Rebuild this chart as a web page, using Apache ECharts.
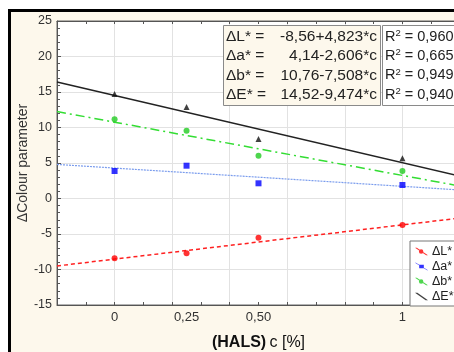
<!DOCTYPE html>
<html><head><meta charset="utf-8">
<script src="https://cdn.jsdelivr.net/npm/echarts@6/dist/echarts.min.js"></script>
<style>
html,body{margin:0;padding:0;background:#fff;}
#wrap{position:relative;width:454px;height:352px;overflow:hidden;background:#fff;}
#frame{position:absolute;left:8px;top:9px;width:460px;height:360px;border-left:3px solid #000;border-top:3px solid #000;background:#fdf8ec;}
#c{position:absolute;left:0;top:0;width:454px;height:352px;}
</style>
</head><body>
<div id="wrap"><div id="frame"></div><div id="c"></div></div>
<script>
// ---- data ----
const xValues = [0, 0.25, 0.5, 1];
const dLValues = [-8.42, -7.72, -5.52, -3.73];
const daValues = [3.87, 4.62, 2.14, 1.90];
const dbValues = [11.15, 9.55, 6.03, 3.87];
const dEValues = [14.72, 12.89, 8.38, 5.66];

// regression line end points (x = -0.2 and x = 1.2)
const fitX = [-0.2, 1.2];
const fitL = [-9.50, -2.75];
const fitA = [4.80, 1.20];
const fitB = [12.25, 1.75];
const fitE = [16.41, 3.15];

const seriesNames = ['ΔL*', 'Δa*', 'Δb*', 'ΔE*'];
const xTickValues = [0, 0.25, 0.5, 1];
const xTickLabels = ['0', '0,25', '0,50', '1'];
const yMin = -15, yMax = 25, yStep = 5;
const xMin = -0.2, xMax = 1.2;

const eqLeft = ['ΔL* =', 'Δa* =', 'Δb* =', 'ΔE* ='];
const eqRight = ['-8,56+4,823*c', '4,14-2,606*c', '10,76-7,508*c', '14,52-9,474*c'];
const r2Values = ['0,960', '0,665', '0,949', '0,940'];

const colors = ['#ff0000', '#0000ff', '#22cc22', '#111111'];
const lineColors = ['#ff2020', '#7a9ced', '#33dd33', '#222222'];
const FONT = '"Liberation Sans", Arial, sans-serif';

function pairs(xs, ys) { return xs.map((x, i) => [x, ys[i]]); }

const legendIcons = [
  'path://M0,0 L2,0 L14,8 L12,8 Z M9,4 A2.4,2.4 0 1,1 4.2,4 A2.4,2.4 0 1,1 9,4 Z',
  'path://M0,0 L1,0 L14,8 L13,8 Z M4.5,2 L9.5,2 L9.5,6 L4.5,6 Z',
  'path://M0,0 L2,0 L14,8 L12,8 Z M9,4 A2.4,2.4 0 1,1 4.2,4 A2.4,2.4 0 1,1 9,4 Z',
  'path://M0,0 L2.5,0 L14,8 L11.5,8 Z'
];

const chart = echarts.init(document.getElementById('c'), null, {renderer: 'canvas'});

const scatterSymbols = ['circle', 'rect', 'circle', 'triangle'];
const pointSets = [dLValues, daValues, dbValues, dEValues];
const fitSets = [fitL, fitA, fitB, fitE];
const lineStyles = [
  {type: [4, 3], width: 1.5},
  {type: [2, 1], width: 1.2},
  {type: [9, 4, 2, 4], width: 1.5},
  {type: 'solid', width: 1.5}
];

const series = [];
seriesNames.forEach((n, i) => {
  series.push({
    name: n, type: 'scatter', xAxisIndex: 0, yAxisIndex: 0,
    symbol: scatterSymbols[i], symbolSize: 6,
    itemStyle: {color: colors[i]},
    data: pairs(xValues, pointSets[i]), z: 5
  });
});
seriesNames.forEach((n, i) => {
  series.push({
    name: n, type: 'line', xAxisIndex: 0, yAxisIndex: 0,
    showSymbol: false, symbol: 'none',
    lineStyle: Object.assign({color: lineColors[i]}, lineStyles[i]),
    itemStyle: {color: colors[i]},
    data: pairs(fitX, fitSets[i]), z: 3, silent: true
  });
});

const graphics = [];
const bx = 223, by = 25, bw = 157, bh = 80;
const EQFONT = '15.5px ' + FONT;
graphics.push({type: 'rect', shape: {x: bx + 0.5, y: by + 0.5, width: bw, height: bh},
  style: {fill: '#fdf8ec', stroke: '#8a8a8a', lineWidth: 1}, z: 100});
graphics.push({type: 'rect', shape: {x: 382.5, y: by + 0.5, width: 90, height: bh},
  style: {fill: '#ffffff', stroke: '#8a8a8a', lineWidth: 1}, z: 100});
for (let i = 0; i < 4; i++) {
  const yy = by + 12 + i * 19.2;
  graphics.push({type: 'text', z: 101, style: {text: eqLeft[i], x: bx + 3, y: yy,
    fill: '#222', font: EQFONT, textAlign: 'left', textVerticalAlign: 'middle'}});
  graphics.push({type: 'text', z: 101, style: {text: eqRight[i], x: bx + bw - 3, y: yy,
    fill: '#222', font: EQFONT, textAlign: 'right', textVerticalAlign: 'middle'}});
  graphics.push({type: 'text', z: 101, style: {
    text: 'R{s|2} = ' + r2Values[i], x: 385, y: yy,
    fill: '#222', font: '14.5px ' + FONT, textAlign: 'left', textVerticalAlign: 'middle',
    rich: {s: {fontSize: 9.5, verticalAlign: 'top', padding: [0, 0, 7, 0], fill: '#222', fontFamily: FONT}}
  }});
}

const option = {
  animation: false,
  backgroundColor: 'transparent',
  textStyle: {fontFamily: FONT},
  grid: {left: 57, top: 21, width: 403, height: 284, show: true, outerBoundsMode: 'none',
    backgroundColor: '#ffffff', borderColor: '#666', borderWidth: 1, containLabel: false},
  xAxis: [
    {
      type: 'value', min: xMin, max: xMax, interval: 0.05, position: 'bottom',
      axisLine: {show: true, onZero: false, lineStyle: {color: '#555'}},
      axisTick: {show: false}, splitLine: {show: false},
      axisLabel: {
        color: '#333', fontSize: 13, margin: 6, fontFamily: FONT,
        formatter: function (v) {
          for (let k = 0; k < xTickValues.length; k++) {
            if (Math.abs(v - xTickValues[k]) < 1e-6) return xTickLabels[k];
          }
          return '';
        }
      },
      name: '{b|(HALS)} {n|c [%]}', nameLocation: 'middle', nameGap: 30, nameMoveOverlap: false,
      nameTextStyle: {rich: {
        b: {fontWeight: 'bold', fontSize: 16, color: '#111', fontFamily: FONT},
        n: {fontSize: 16, color: '#111', fontFamily: FONT}
      }}
    },
    {
      type: 'value', min: xMin, max: xMax, interval: 0.2, position: 'bottom',
      axisLine: {show: false, onZero: false}, axisLabel: {show: false},
      axisTick: {show: true, inside: true, length: 3, lineStyle: {color: '#555'}},
      minorTick: {show: true, splitNumber: 2, length: 3, lineStyle: {color: '#555'}},
      splitLine: {show: true, lineStyle: {color: '#e2e2e2', width: 1}}
    },
    {
      type: 'value', min: xMin, max: xMax, interval: 0.2, position: 'top',
      axisLine: {show: true, onZero: false, lineStyle: {color: '#555'}}, axisLabel: {show: false},
      axisTick: {show: true, inside: true, length: 3, lineStyle: {color: '#555'}},
      minorTick: {show: true, splitNumber: 2, length: 3, lineStyle: {color: '#555'}},
      splitLine: {show: false}
    }
  ],
  yAxis: [{
    type: 'value', min: yMin, max: yMax, interval: yStep,
    axisLine: {show: true, onZero: false, lineStyle: {color: '#555'}},
    axisTick: {show: true, inside: true, length: 4, lineStyle: {color: '#555'}},
    minorTick: {show: true, splitNumber: 5, length: 3, lineStyle: {color: '#555'}},
    splitLine: {show: true, lineStyle: {color: '#e2e2e2', width: 1}},
    axisLabel: {color: '#333', fontSize: 12.5, margin: 5, fontFamily: FONT},
    name: 'ΔColour parameter', nameLocation: 'middle', nameGap: 27, nameMoveOverlap: false,
    nameTextStyle: {fontSize: 14, color: '#333', fontFamily: FONT}
  }],
  legend: {
    orient: 'vertical', left: 410, top: 241,
    backgroundColor: '#ffffff', borderColor: '#777', borderWidth: 1,
    padding: [4, 6, 3, 5], itemGap: 2, itemWidth: 13, itemHeight: 8,
    textStyle: {fontSize: 12.5, color: '#222', fontFamily: FONT, padding: [0, 0, 0, -1]},
    data: seriesNames.map((n, i) => ({name: n, icon: legendIcons[i]})),
    selectedMode: false
  },
  graphic: graphics,
  series: series
};
chart.setOption(option);
</script>
</body></html>
